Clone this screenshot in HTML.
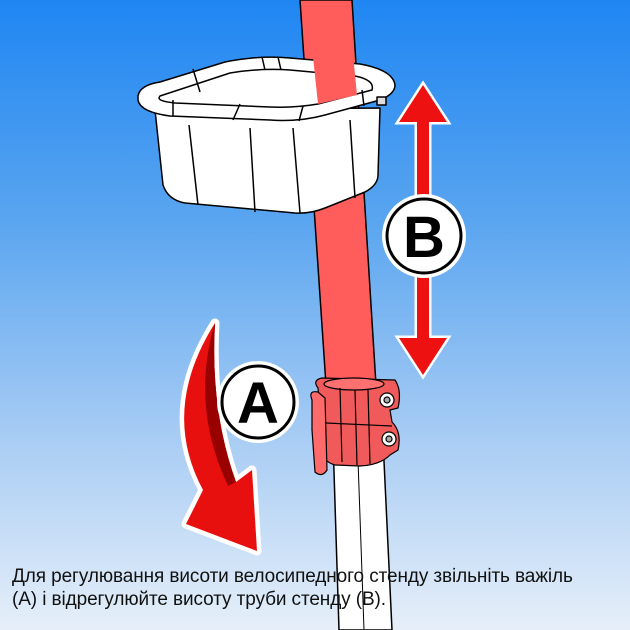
<!DOCTYPE html>
<html><head><meta charset="utf-8"><style>
html,body{margin:0;padding:0}
body{width:630px;height:630px;overflow:hidden;position:relative;background:linear-gradient(180deg,#1f86f2 0%,#5aa5f0 35%,#a9cdf4 70%,#e6eff9 100%)}
svg{position:absolute;left:0;top:0}
.t{position:absolute;left:12px;top:565px;font:19px "Liberation Sans",sans-serif;color:#111;line-height:23px;white-space:nowrap;letter-spacing:-0.1px}
</style></head><body>
<svg width="630" height="630" viewBox="0 0 630 630">
<polygon points="333,440 383,440 392,630 339,630" fill="#fff" stroke="#000" stroke-width="1.5"/>
<line x1="358" y1="460" x2="364" y2="630" stroke="#000" stroke-width="1"/>
<polygon points="300,0 352,0 376,385 326,385" fill="#ff5c5c" stroke="#000" stroke-width="1.5"/>
<g stroke="#000" stroke-width="1.5" fill="#fff" stroke-linejoin="round">
<path d="M155,110 L163,185 Q168,200 185,203 L295,213 Q310,214 325,208 L365,192 Q378,185 378,175 L380,108 Z"/>
<path d="M138,96 Q140,85 160,82 L225,62 Q260,55 290,58 L360,64 Q393,70 395,85 Q395,94 380,100 L325,115 Q300,122 270,120 L170,116 Q140,112 138,100 Z"/>
<path d="M160,96 L230,73 Q260,68 290,70 L355,76 Q375,80 372,90 L318,104 Q295,108 270,107 L175,103 Q155,101 160,96 Z" fill="#fff"/>
<polygon points="311,38 352,44 357,95 318,104" fill="#ff5c5c" stroke="none"/>
<line x1="189" y1="125" x2="198" y2="205"/><line x1="250" y1="128" x2="255" y2="212"/><line x1="293" y1="128" x2="300" y2="213"/><line x1="350" y1="120" x2="355" y2="198"/>
<line x1="173" y1="116" x2="173" y2="100"/><line x1="233" y1="120" x2="240" y2="104"/><line x1="299" y1="121" x2="303" y2="106"/><line x1="364" y1="106" x2="362" y2="90"/>
<line x1="193" y1="69" x2="200" y2="92"/><line x1="262" y1="57" x2="265" y2="70"/><line x1="278" y1="57" x2="281" y2="70"/>
<rect x="377" y="97" width="9" height="8" fill="#ddd"/>
</g>
<g stroke="#000" stroke-width="1.2" fill="#f05a5a">
<path d="M318,388 Q312,380 322,378 L395,380 Q402,390 398,408 L390,410 L392,422 Q402,432 398,450 L390,455 Q380,465 360,466 L335,465 Q325,462 323,455 Z"/>
<ellipse cx="354" cy="384" rx="30" ry="6" fill="#ff7070"/>
<line x1="326" y1="423" x2="392" y2="426"/>
<path d="M312,400 Q308,390 318,392 L325,398 L327,470 Q322,478 315,472 L312,430 Z" fill="#ff6b6b"/>
<circle cx="387" cy="400" r="7" fill="#fff"/><circle cx="387" cy="400" r="3" fill="#aaa"/>
<circle cx="389" cy="439" r="7" fill="#fff"/><circle cx="389" cy="439" r="3" fill="#aaa"/>
<line x1="340" y1="388" x2="342" y2="462"/><line x1="355" y1="390" x2="357" y2="465"/><line x1="368" y1="390" x2="370" y2="464"/>
</g>
<g fill="#ee1111" stroke="#fff" stroke-width="5">
<polygon points="423,85 447,122 429,122 429,198 417,198 417,122 399,122"/>
<polygon points="423,375 447,338 429,338 429,276 417,276 417,338 399,338"/>
</g>
<g fill="#ee1111">
<polygon points="423,85 447,122 429,122 429,198 417,198 417,122 399,122"/>
<polygon points="423,375 447,338 429,338 429,276 417,276 417,338 399,338"/>
</g>
<circle cx="424" cy="236" r="42" fill="#fff"/>
<circle cx="424" cy="236" r="37" fill="#fff" stroke="#000" stroke-width="3"/>
<text x="424" y="257" text-anchor="middle" font-family="Liberation Sans,sans-serif" font-weight="bold" font-size="58" fill="#000">B</text>
<path d="M215,323 Q160,410 203,490 L186,524 L257,551 L252,470 L236,482 Q210,410 215,323 Z" fill="#e80f0f" stroke="#fff" stroke-width="9" stroke-linejoin="round" paint-order="stroke"/>
<path d="M215,323 Q190,405 228,486 L236,482 Q210,410 215,323 Z" fill="#900"/>
<circle cx="258" cy="402" r="41" fill="#fff"/>
<circle cx="258" cy="402" r="36" fill="#fff" stroke="#000" stroke-width="3"/>
<text x="258" y="423" text-anchor="middle" font-family="Liberation Sans,sans-serif" font-weight="bold" font-size="58" fill="#000">A</text>
</svg>
<div class="t">Для регулювання висоти велосипедного стенду звільніть важіль<br>(А) і відрегулюйте висоту труби стенду (В).</div>
</body></html>
